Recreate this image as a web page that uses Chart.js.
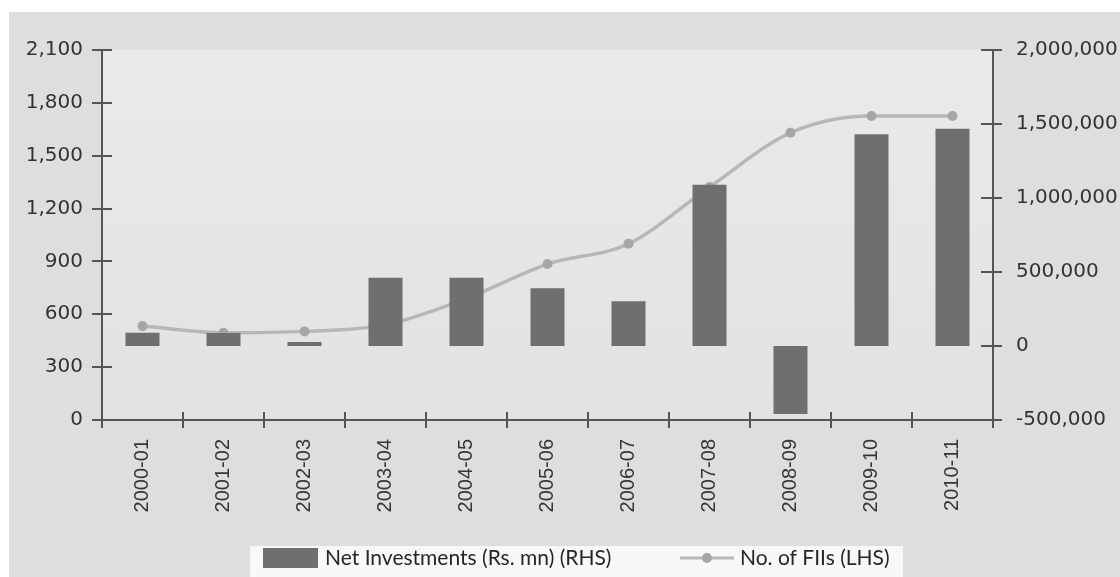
<!DOCTYPE html>
<html>
<head>
<meta charset="utf-8">
<script src="https://cdn.jsdelivr.net/npm/chart.js@4.4.1/dist/chart.umd.min.js"></script>
<style>
  html, body { margin: 0; padding: 0; background: #fff; }
  #wrap { width: 1120px; height: 577px; }
</style>
</head>
<body>
<div id="wrap"><canvas id="c" width="1120" height="577"></canvas></div>
<script>
// Fiscal years on the category axis
const years = ['2000-01', '2001-02', '2002-03', '2003-04', '2004-05', '2005-06',
               '2006-07', '2007-08', '2008-09', '2009-10', '2010-11'];

// Net investments by FIIs, Rs. mn (right-hand scale)
const netInvestments = [90000, 88000, 27000, 461000, 461000, 390000,
                        302000, 1090000, -459000, 1430000, 1468000];

// Number of registered FIIs (left-hand scale)
const fiiCount = [533, 495, 503, 540, 690, 885, 1000, 1322, 1630, 1725, 1725];

// Axis tick values
const leftTicks = [0, 300, 600, 900, 1200, 1500, 1800, 2100];
const rightTicks = [-500000, 0, 500000, 1000000, 1500000, 2000000];

const barLabel = 'Net Investments (Rs. mn) (RHS)';
const lineLabel = 'No. of FIIs (LHS)';

const AXIS = '#555555';
const BAR = '#6f6f6f';
const LINE = '#b7b7b7';
const DOT = '#a6a6a6';

const fmt = v => Number(v).toLocaleString('en-US');

// Backdrop, plot panel, cross-over tick marks and the legend panel
const frame = {
  id: 'frame',
  beforeDraw(chart) {
    const { ctx, chartArea: a } = chart;
    ctx.save();
    ctx.fillStyle = '#ffffff';
    ctx.fillRect(0, 0, chart.width, chart.height);
    ctx.fillStyle = '#dedede';
    ctx.fillRect(9, 12, chart.width - 9, chart.height - 12);
    const g = ctx.createLinearGradient(0, a.top, 0, a.bottom);
    g.addColorStop(0, '#eaeaea');
    g.addColorStop(1, '#e2e2e2');
    ctx.fillStyle = g;
    ctx.fillRect(a.left, a.top, a.right - a.left, a.bottom - a.top);
    ctx.restore();
  },
  afterDraw(chart) {
    const { ctx, scales: { x, y, y1 } } = chart;
    ctx.save();
    ctx.strokeStyle = AXIS;
    ctx.lineWidth = 2;
    ctx.beginPath();
    y.ticks.forEach(t => {
      const p = Math.round(y.getPixelForValue(t.value));
      ctx.moveTo(y.right - 10, p); ctx.lineTo(y.right + 10, p);
    });
    y1.ticks.forEach(t => {
      const p = Math.round(y1.getPixelForValue(t.value));
      ctx.moveTo(y1.left - 12, p); ctx.lineTo(y1.left + 9, p);
    });
    for (let i = 0; i <= years.length; i++) {
      const p = Math.round(x.getPixelForValue(i - 0.5));
      ctx.moveTo(p, x.top - 8); ctx.lineTo(p, x.top + 8);
    }
    ctx.stroke();

    // legend
    const cy = 558;
    ctx.fillStyle = '#f8f8f8';
    ctx.fillRect(250, 546, 653, chart.height - 546);
    ctx.fillStyle = BAR;
    ctx.fillRect(263, cy - 10, 55, 20);
    ctx.font = '21px Lato';
    ctx.fillStyle = '#262626';
    ctx.textBaseline = 'middle';
    ctx.textAlign = 'left';
    ctx.fillText(barLabel, 325, cy);
    ctx.strokeStyle = LINE;
    ctx.lineWidth = 3;
    ctx.beginPath();
    ctx.moveTo(680, cy); ctx.lineTo(734, cy);
    ctx.stroke();
    ctx.fillStyle = DOT;
    ctx.beginPath();
    ctx.arc(707, cy, 5, 0, Math.PI * 2);
    ctx.fill();
    ctx.fillStyle = '#262626';
    ctx.fillText(lineLabel, 740, cy);
    ctx.restore();
  }
};

new Chart(document.getElementById('c'), {
  data: {
    labels: years,
    datasets: [
      {
        type: 'bar',
        label: barLabel,
        data: netInvestments,
        yAxisID: 'y1',
        backgroundColor: BAR,
        barPercentage: 0.42,
        categoryPercentage: 1,
        order: 1
      },
      {
        type: 'line',
        label: lineLabel,
        data: fiiCount,
        yAxisID: 'y',
        borderColor: LINE,
        borderWidth: 3.5,
        cubicInterpolationMode: 'monotone',
        pointRadius: 5,
        pointBackgroundColor: DOT,
        pointBorderWidth: 0,
        order: 2
      }
    ]
  },
  options: {
    responsive: false,
    animation: false,
    devicePixelRatio: 1,
    layout: { padding: { left: 0, right: 0, top: 50, bottom: 0 } },
    plugins: {
      legend: { display: false },
      tooltip: { enabled: false }
    },
    scales: {
      x: {
        type: 'category',
        offset: true,
        grid: { display: false, drawTicks: false },
        border: { display: true, color: AXIS, width: 2 },
        ticks: {
          autoSkip: false,
          minRotation: 90,
          maxRotation: 90,
          padding: 19,
          color: '#363636',
          font: { family: 'Liberation Sans', size: 20 }
        },
        afterFit(s) { s.height = 157; }
      },
      y: {
        position: 'left',
        min: 0,
        max: 2100,
        afterBuildTicks(s) { s.ticks = leftTicks.map(v => ({ value: v })); },
        grid: { display: false, drawTicks: false },
        border: { display: true, color: AXIS, width: 2 },
        ticks: {
          padding: 19,
          color: '#333333',
          font: { family: 'DejaVu Sans', size: 20 },
          callback: v => fmt(v)
        },
        afterFit(s) { s.width = 102; }
      },
      y1: {
        position: 'right',
        min: -500000,
        max: 2000000,
        afterBuildTicks(s) { s.ticks = rightTicks.map(v => ({ value: v })); },
        grid: { display: false, drawTicks: false },
        border: { display: true, color: AXIS, width: 2 },
        ticks: {
          padding: 23,
          color: '#333333',
          font: { family: 'DejaVu Sans', size: 20 },
          callback: v => fmt(v)
        },
        afterFit(s) { s.width = 127; }
      }
    }
  },
  plugins: [frame]
});
</script>
</body>
</html>
